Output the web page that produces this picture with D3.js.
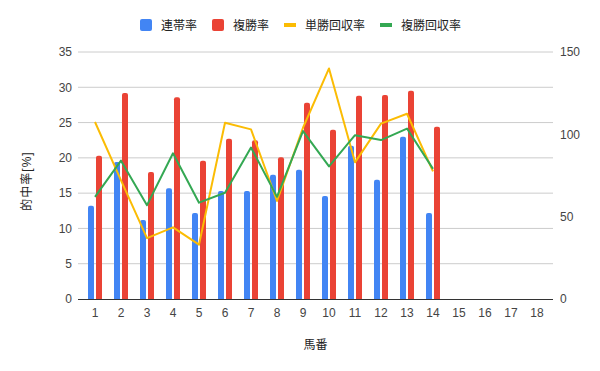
<!DOCTYPE html>
<html>
<head>
<meta charset="utf-8">
<script src="https://cdn.jsdelivr.net/npm/d3@7"></script>
<style>
  body { margin: 0; background: #fff; }
  text { font-family: "Liberation Sans", Arial, "Noto Sans CJK JP", sans-serif; }
</style>
</head>
<body>
<div id="chart"></div>
<script>
// 馬番
var horses = ["1","2","3","4","5","6","7","8","9","10","11","12","13","14","15","16","17","18"]
// 的中率 [%] (left axis)
var rentai = [13.2, 19.4, 11.2, 15.7, 12.2, 15.3, 15.3, 17.6, 18.3, 14.6, 21.7, 16.9, 23.0, 12.2]
var fukusho = [20.3, 29.2, 18.0, 28.6, 19.6, 22.7, 22.5, 20.1, 27.8, 24.0, 28.8, 28.9, 29.5, 24.4]
// 回収率 (right axis)
var tanRecovery = [107.5, 72, 37, 43.5, 33, 107, 103, 59.5, 104, 140, 83, 106.5, 112.5, 77.5]
var fukuRecovery = [62, 84, 57, 88.5, 58.5, 64.5, 92, 62, 102, 80.5, 99.5, 96.5, 103.5, 79]

var leftTicks = [0, 5, 10, 15, 20, 25, 30, 35]
var rightTicks = [0, 50, 100, 150]

var colors = {blue: "#4285f4", red: "#ea4335", yellow: "#fbbc04", green: "#34a853"}

var width = 600, height = 371
var plot = {left: 78, right: 553, top: 52, bottom: 299}

var svg = d3.select("#chart").append("svg")
    .attr("width", width)
    .attr("height", height)

var x = d3.scaleBand().domain(horses).range([82, 550])
var sub = d3.scaleBand().domain(["rentai", "fukusho"]).range([-7, 7]).paddingInner(0.25)
var y = d3.scaleLinear().domain([0, 35]).range([plot.bottom, plot.top])
var y2 = d3.scaleLinear().domain([0, 150]).range([plot.bottom, plot.top])

// gridlines
svg.append("g")
  .selectAll("line")
  .data(leftTicks.slice(1))
  .enter().append("line")
    .attr("x1", plot.left).attr("x2", plot.right)
    .attr("y1", function(d) { return y(d) }).attr("y2", function(d) { return y(d) })
    .attr("stroke", "#cccccc")
    .attr("stroke-width", 1)

// left axis
var leftAxis = svg.append("g")
    .attr("transform", "translate(" + plot.left + ",0)")
    .call(d3.axisLeft(y).tickValues(leftTicks).tickSize(0).tickPadding(6))
leftAxis.select(".domain").remove()
leftAxis.selectAll("text").attr("fill", "#444").style("font-size", "12px")

// right axis
var rightAxis = svg.append("g")
    .attr("transform", "translate(" + plot.right + ",0)")
    .call(d3.axisRight(y2).tickValues(rightTicks).tickSize(0).tickPadding(7))
rightAxis.select(".domain").remove()
rightAxis.selectAll("text").attr("fill", "#444").style("font-size", "12px")

// bars with rounded tops
function barPath(x0, w, yTop, yBase) {
  var r = Math.min(2, (yBase - yTop) / 2)
  return "M" + x0 + "," + yBase +
    "V" + (yTop + r) +
    "Q" + x0 + "," + yTop + " " + (x0 + r) + "," + yTop +
    "H" + (x0 + w - r) +
    "Q" + (x0 + w) + "," + yTop + " " + (x0 + w) + "," + (yTop + r) +
    "V" + yBase + "Z"
}

function center(i) { return x(horses[i]) + x.bandwidth() / 2 }

svg.append("g").selectAll("path")
  .data(rentai)
  .enter().append("path")
    .attr("fill", colors.blue)
    .attr("d", function(d, i) { return barPath(center(i) + sub("rentai"), sub.bandwidth(), y(d), y(0)) })

svg.append("g").selectAll("path")
  .data(fukusho)
  .enter().append("path")
    .attr("fill", colors.red)
    .attr("d", function(d, i) { return barPath(center(i) + sub("fukusho"), sub.bandwidth(), y(d), y(0)) })

// baseline
svg.append("line")
  .attr("x1", plot.left).attr("x2", plot.right)
  .attr("y1", plot.bottom + 0.5).attr("y2", plot.bottom + 0.5)
  .attr("stroke", "#333")
  .attr("stroke-width", 1)

// lines on right axis
var line = d3.line()
    .x(function(d, i) { return center(i) })
    .y(function(d) { return y2(d) })

svg.append("path")
  .attr("d", line(tanRecovery))
  .attr("fill", "none")
  .attr("stroke", colors.yellow)
  .attr("stroke-width", 2)
  .attr("stroke-linejoin", "round")

svg.append("path")
  .attr("d", line(fukuRecovery))
  .attr("fill", "none")
  .attr("stroke", colors.green)
  .attr("stroke-width", 2)
  .attr("stroke-linejoin", "round")

// x axis labels
var xAxis = svg.append("g")
    .attr("transform", "translate(0," + plot.bottom + ")")
    .call(d3.axisBottom(x).tickSize(0).tickPadding(9))
xAxis.select(".domain").remove()
xAxis.selectAll("text").attr("fill", "#444").style("font-size", "12px")

// axis titles
svg.append("text")
  .attr("x", (plot.left + plot.right) / 2)
  .attr("y", 349)
  .attr("text-anchor", "middle")
  .attr("fill", "#222")
  .style("font-size", "12px")
  .text("馬番")

svg.append("text")
  .attr("transform", "translate(31,181) rotate(-90)")
  .attr("text-anchor", "middle")
  .attr("fill", "#222")
  .style("font-size", "12px")
  .style("letter-spacing", "1px")
  .text("的中率[%]")

// legend
var legendItems = [
  {name: "連帯率", color: colors.blue, type: "box", x: 140},
  {name: "複勝率", color: colors.red, type: "box", x: 212},
  {name: "単勝回収率", color: colors.yellow, type: "line", x: 284},
  {name: "複勝回収率", color: colors.green, type: "line", x: 380}
]

var legend = svg.append("g").selectAll("g")
  .data(legendItems)
  .enter().append("g")
    .attr("transform", function(d) { return "translate(" + d.x + ",25)" })

legend.filter(function(d) { return d.type == "box" })
  .append("rect")
    .attr("x", 0).attr("y", -6)
    .attr("width", 12).attr("height", 12)
    .attr("rx", 2)
    .attr("fill", function(d) { return d.color })

legend.filter(function(d) { return d.type == "line" })
  .append("rect")
    .attr("x", 0).attr("y", -2)
    .attr("width", 12).attr("height", 4)
    .attr("fill", function(d) { return d.color })

legend.append("text")
  .attr("x", 21)
  .attr("y", 4.5)
  .attr("fill", "#222")
  .style("font-size", "12px")
  .text(function(d) { return d.name })
</script>
</body>
</html>
